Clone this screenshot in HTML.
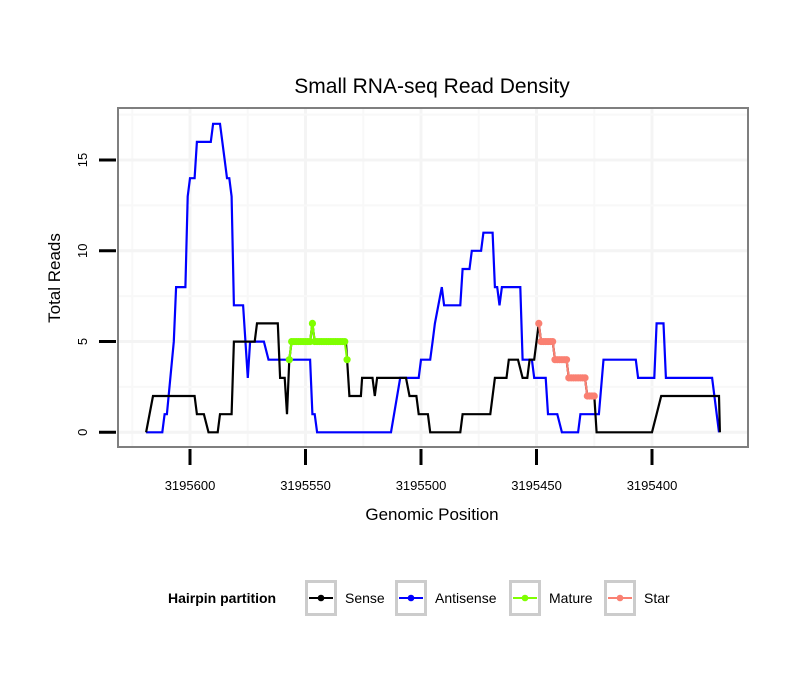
<!DOCTYPE html>
<html><head><meta charset="utf-8"><style>
body{margin:0;background:#fff;}
svg{display:block;font-family:"Liberation Sans",sans-serif;}
</style></head><body>
<svg id="chart" width="810" height="690">
<rect width="810" height="690" fill="#fff"/>
<text x="432" y="93" font-size="21" text-anchor="middle">Small RNA-seq Read Density</text>
<g id="grid"></g>
<g id="series"></g>
<rect x="118" y="108" width="630" height="339" fill="none" stroke="#7f7f7f" stroke-width="2"/>
<g id="axes"></g>
<text x="432" y="520" font-size="17" text-anchor="middle">Genomic Position</text>
<text transform="translate(60,278) rotate(-90)" font-size="17" text-anchor="middle">Total Reads</text>
<g id="legend">
<text x="168" y="603" font-size="14" font-weight="bold">Hairpin partition</text>
</g>
</svg>
<script>
const senseX=[619,616,598,597,594,592,588,587,582,581,572,571,562,561,559,558,557,556,548,547,546,532.5,532,531,526,525.5,521,520,519,506.5,505,502,501,497,496,483,482,470,468,463,462,458,456,454,453,451,449,448,443,442,437,436,429,428,425,424,400,398,396,371,370.6];
const senseY=[0,2,2,1,1,0,0,1,1,5,5,6,6,3,3,1,4,5,5,6,5,5,4,2,2,3,3,2,3,3,2,2,1,1,0,0,1,1,3,3,4,4,3,3,4,4,6,5,5,4,4,3,3,2,2,0,0,1,2,2,0];
const antiX=[619,612,611,610,607,606,602,601,600,598,597,591,590,587,585,584,583,582,581,577,575,574,568,566,548,547,546,545,513,509,501,500,496,495,494,491,490,483,482,479,478,474,473,469,468,467,466,465,457,456,452,451,446,445,441,439,432,431,423,421,407,406,399,398,395,394,374,371];
const antiY=[0,0,1,1,5,8,8,13,14,14,16,16,17,17,15,14,14,13,7,7,3,5,5,4,4,1,1,0,0,3,3,4,4,5,6,8,7,7,9,9,10,10,11,11,8,8,7,8,8,4,4,3,3,1,1,0,0,1,1,4,4,3,3,6,6,3,3,0];
const matureX=[557,556,555,554,553,552,551,550,549,548,547,546,545,544,543,542,541,540,539,538,537,536,535,534,533,532];
const matureY=[4,5,5,5,5,5,5,5,5,5,6,5,5,5,5,5,5,5,5,5,5,5,5,5,5,4];
const starX=[449,448,447,446,445,444,443,442,441,440,439,438,437,436,435,434,433,432,431,430,429,428,427,426,425];
const starY=[6,5,5,5,5,5,5,4,4,4,4,4,4,3,3,3,3,3,3,3,3,2,2,2,2];
const xTicks=[3195600,3195550,3195500,3195450,3195400];
const yTicks=[0,5,10,15];
const BASE=3195000;
const NS='http://www.w3.org/2000/svg';
function X(p){return 190+(3195600-p)*2.31;}
function Y(v){return 432.3-v*18.15;}
function mk(tag,attrs,parent){const e=document.createElementNS(NS,tag);for(const k in attrs)e.setAttribute(k,attrs[k]);parent.appendChild(e);return e;}
const grid=document.getElementById('grid'),ser=document.getElementById('series'),axes=document.getElementById('axes'),leg=document.getElementById('legend');
// grid
for(let i=0;i<xTicks.length;i++){
  const x=X(xTicks[i]);
  const l=mk('line',{x1:x,x2:x,y1:108,y2:447,stroke:'#f4f4f4','stroke-width':3},grid);
  
  
  const xm=X(xTicks[i]+25);
  const m=mk('line',{x1:xm,x2:xm,y1:108,y2:447,stroke:'#f8f8f8','stroke-width':2},grid);
  
  
  const t=mk('line',{x1:x,x2:x,y1:449,y2:465,stroke:'#000','stroke-width':3},axes);
  
  
  const tx=mk('text',{x:x,y:490,'font-size':13,'text-anchor':'middle'},axes);
  tx.textContent=xTicks[i];
  
  
}
for(let i=0;i<yTicks.length;i++){
  const y=Y(yTicks[i]);
  const l=mk('line',{x1:118,x2:748,y1:y,y2:y,stroke:'#f4f4f4','stroke-width':3},grid);
  
  
  const ym=Y(yTicks[i]+2.5);
  const m=mk('line',{x1:118,x2:748,y1:ym,y2:ym,stroke:'#f8f8f8','stroke-width':2},grid);
  
  
  const t=mk('line',{x1:99,x2:116,y1:y,y2:y,stroke:'#000','stroke-width':3},axes);
  
  
  const tx=mk('text',{x:0,y:0,'font-size':13,'text-anchor':'middle',transform:'translate(87,'+y+') rotate(-90)'},axes);
  tx.textContent=yTicks[i];
  
  
}
function line(xs,ys,color,name){
  const pts=xs.map((p,i)=>X(BASE+p).toFixed(1)+','+Y(ys[i]).toFixed(1)).join(' ');
  const pl=mk('polyline',{points:pts,fill:'none',stroke:color,'stroke-width':2.2,'stroke-linejoin':'miter'},ser);
  
  
}
function dots(xs,ys,color,name){
  for(let i=0;i<xs.length;i++){
    const c=mk('circle',{cx:X(BASE+xs[i]),cy:Y(ys[i]),r:3.6,fill:color},ser);
    
    
  }
}
line(antiX,antiY,'#0000ff','antisense-line');
line(senseX,senseY,'#000000','sense-line');
line(matureX,matureY,'#7fff00','mature-line');
dots(matureX,matureY,'#7fff00','mature-point');
line(starX,starY,'#fa8072','star-line');
dots(starX,starY,'#fa8072','star-point');
// legend
const legItems=[['Sense','#000',305],['Antisense','#0000ff',395],['Mature','#7fff00',509],['Star','#fa8072',604]];
for(const [lab,col,bx] of legItems){
  const g=mk('g',{},leg);
  
  
  mk('rect',{x:bx+1.5,y:581.5,width:29,height:33,fill:'#fff',stroke:'#cccccc','stroke-width':3},g);
  mk('line',{x1:bx+4,x2:bx+28,y1:598,y2:598,stroke:col,'stroke-width':2},g);
  mk('circle',{cx:bx+16,cy:598,r:3.3,fill:col},g);
  const t=mk('text',{x:bx+40,y:603,'font-size':14},g);
  t.textContent=lab;
}
</script>
</body></html>
